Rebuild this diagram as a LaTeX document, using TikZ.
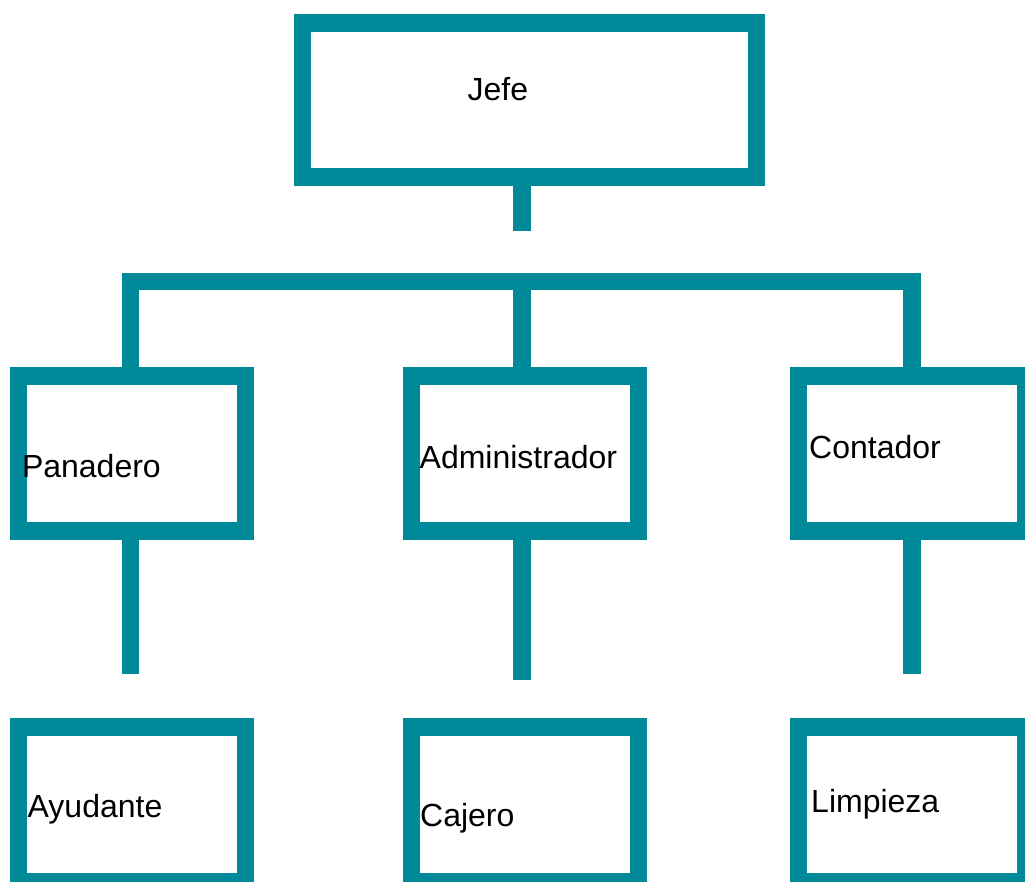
\documentclass[tikz,border=0pt]{standalone}
\usepackage{fontspec}
\setmainfont{Liberation Sans}
\definecolor{teal1}{RGB}{0,138,153}
\begin{document}
\begin{tikzpicture}[x=1pt,y=-1pt,
  box/.style={draw=teal1,line width=17.5pt,rectangle,inner sep=0pt,minimum width=227pt,minimum height=154.5pt},
  conn/.style={draw=teal1,line width=17.5pt,line cap=butt,line join=miter},
  lbl/.style={anchor=base west,inner sep=0pt,font=\fontsize{32}{38}\selectfont,text=black}]
\useasboundingbox (0,0) rectangle (1025,882);
% boxes
\node[box,minimum width=454.3pt,minimum height=154.2pt] (jefe) at (529.4,99.9) {};
\node[box] (pan) at (131.8,453.5) {};
\node[box] (adm) at (525,453.5) {};
\node[box] (cont) at (911.8,453.5) {};
\node[box] (ayu) at (131.8,804.3) {};
\node[box] (caj) at (525,804.3) {};
\node[box] (lim) at (911.8,804.3) {};
% labels
\node[lbl] (tjefe) at (467.5,100.5) {Jefe};
\node[lbl] (tpan) at (21.8,477.5) {Panadero};
\node[lbl] (tadm) at (419.5,468) {Administrador};
\node[lbl] (tcont) at (809,458.5) {Contador};
\node[lbl] (tayu) at (27.5,817.5) {Ayudante};
\node[lbl] (tcaj) at (420,826) {Cajero};
\node[lbl] (tlim) at (811,812.5) {Limpieza};
% connectors
\coordinate (jstem) at (521.9,230.7);
\coordinate (barL) at (130.5,281.5);
\coordinate (barM) at (521.9,281.5);
\coordinate (barR) at (911.8,281.5);
\coordinate (panend) at (130.5,674.3);
\coordinate (admend) at (521.9,680);
\coordinate (contend) at (911.8,674.3);
\draw[conn] (jefe.south -| jstem) -- (jstem);
\draw[conn] (pan.north -| barL) -- (barL) -- (barR) -- (cont.north -| barR);
\draw[conn] (barM) -- (adm.north -| barM);
\draw[conn] (pan.south -| panend) -- (panend);
\draw[conn] (adm.south -| admend) -- (admend);
\draw[conn] (cont.south -| contend) -- (contend);
\end{tikzpicture}
\end{document}
